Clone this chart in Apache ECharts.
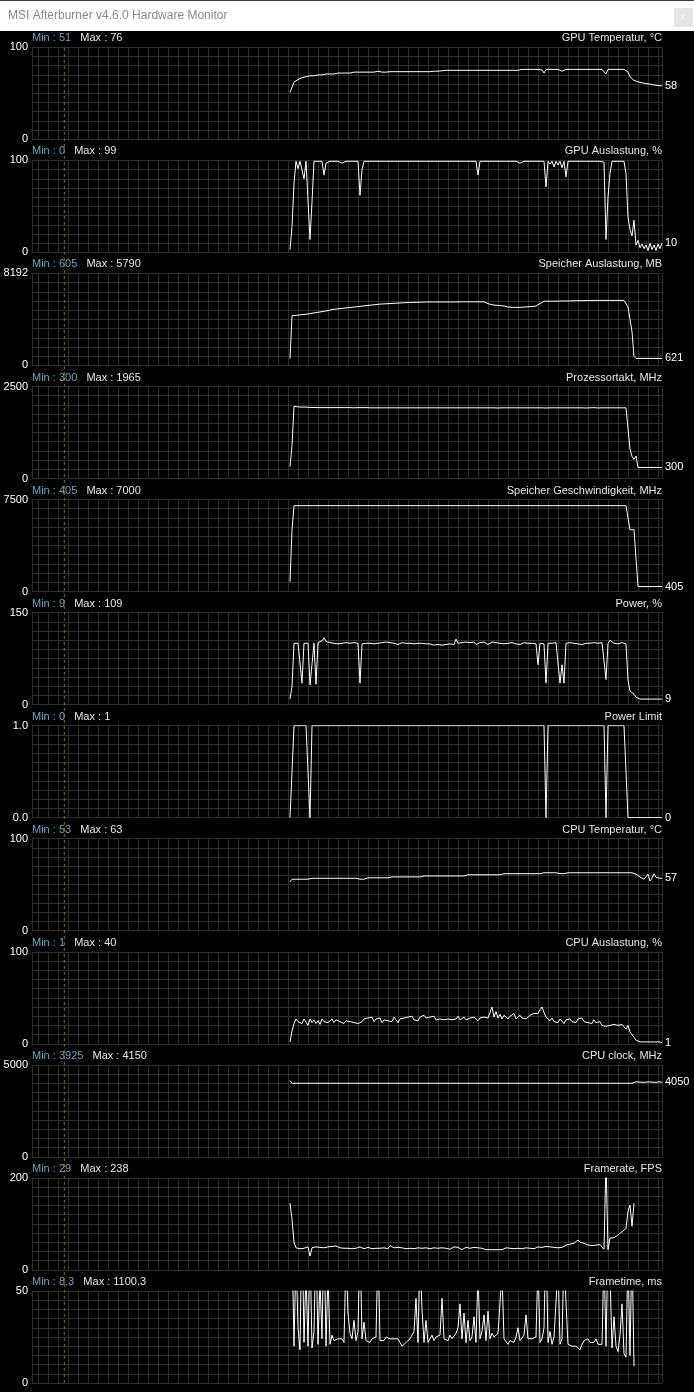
<!DOCTYPE html>
<html><head><meta charset="utf-8">
<script src="https://cdn.jsdelivr.net/npm/echarts@6/dist/echarts.min.js"></script>
<style>html,body{margin:0;padding:0;background:#000}#c{width:694px;height:1392px}</style>
</head><body><div id="c"></div>
<script>
// ---------- DATA ----------
const WINDOW_TITLE = 'MSI Afterburner v4.6.0 Hardware Monitor';
const HISTORY = 630;      // samples visible in the history window
const START = 258;        // sample index of first recorded value
const STEP = 2;           // samples between stored values
const MARKER = 32.3;      // position of the dashed marker

const titles = ['GPU Temperatur, °C','GPU Auslastung, %','Speicher Auslastung, MB','Prozessortakt, MHz','Speicher Geschwindigkeit, MHz','Power, %','Power Limit','CPU Temperatur, °C','CPU Auslastung, %','CPU clock, MHz','Framerate, FPS','Frametime, ms'];
const yMax = [100,100,8192,2500,7500,150,1,100,100,5000,200,50];
const yTopLabels = ['100','100','8192','2500','7500','150','1.0','100','100','5000','200','50'];
const yBottomLabels = ['0','0','0','0','0','0','0.0','0','0','0','0','0'];
const minValues = ['51','0','605','300','405','9','0','53','1','3925','29','8.3'];
const maxValues = ['76','99','5790','1965','7000','109','1','63','40','4150','238','1100.3'];
const showCurrent = [true,true,true,true,true,true,true,true,true,true,false,false];

const gpuTemp = [51,52,62,63,65,66,67,67,68,68,
 69,68,69,69,70,70,70,70,71,71,
 71,71,71,72,72,72,72,72,72,72,
 72,72,73,73,73,73,73,73,73,73,
 73,73,73,73,74,73,73,73,73,73,
 73.5,73.5,73.5,73.5,73.5,73.5,73.5,73.5,73.5,73.5,
 73.5,73.5,73.5,73.5,73.5,73.5,73.5,73.5,73.5,73.5,
 73.5,73.5,74,74.5,74,75,74.5,75,75,75,
 75,75,75,75,75,75,75,75,75,75,
 75,75,75,75,75,75,75,75,75,75,
 75,75,75,75,75,75,75,75,75,75,
 75,75,75,75,75,75.5,76,75.5,76,76,
 76,75.5,76,76,76,76,75.5,72,76,76,
 76,76,76,75.5,76,75.5,74,76,76,76,
 76,76,76,76,76,76,76,76,76,76,
 76,76,76,76,76,76,76,76,71,76,
 76,76,76,76,76,76,76,76,76,73,
 68,66,64,63,62.5,62,61.5,61,60.5,60,
 60,59.5,59,58.5,58.5,58,58];

const gpuLoad = [3,28,75,99,91,99,99,80,99,97,
 14,55,99,97,99,98,99,84,97,99,
 99,99,99,99,99,99,97,99,99,99,
 99,99,99,99,99,62,90,99,99,99,
 99,99,99,99,97,99,99,99,99,99,
 99,99,99,99,99,99,99,99,99,99,
 99,99,99,99,99,99,99,99,99,99,
 99,99,99,99,99,99,99,99,99,99,
 99,99,99,99,99,99,97,99,99,99,
 99,99,99,99,84,99,99,99,99,99,
 99,99,99,99,99,99,99,99,99,99,
 99,99,99,99,99,97,99,99,99,99,
 99,99,99,99,99,99,99,99,71,99,
 96,99,93,99,95,99,92,99,82,99,
 99,99,99,99,99,99,99,99,99,99,
 99,99,99,99,99,99,97,98,14,60,
 86,99,99,99,99,99,99,99,85,38,
 25,18,35,8,13,5,9,4,8,2,
 10,3,8,2,9,4,10];

const memUsage = [605,4420,4440,4460,4480,4500,4520,4540,4560,4580,
 4600,4650,4680,4700,4730,4760,4790,4820,4850,4880,
 4950,4980,5000,5020,5040,5060,5080,5100,5120,5140,
 5160,5180,5200,5220,5240,5260,5280,5300,5320,5340,
 5360,5380,5400,5420,5440,5460,5470,5480,5490,5500,
 5510,5520,5530,5540,5550,5560,5570,5580,5590,5600,
 5600,5610,5610,5620,5620,5630,5630,5640,5640,5650,
 5650,5650,5650,5650,5650,5650,5650,5650,5650,5650,
 5650,5650,5650,5650,5660,5660,5660,5660,5660,5660,
 5660,5660,5660,5660,5660,5660,5660,5660,5600,5500,
 5440,5400,5380,5360,5340,5320,5300,5290,5280,5200,
 5180,5170,5170,5170,5170,5170,5180,5200,5210,5220,
 5230,5240,5260,5280,5350,5500,5650,5720,5720,5720,
 5720,5720,5720,5720,5720,5730,5730,5740,5740,5740,
 5750,5750,5750,5760,5760,5760,5770,5770,5770,5780,
 5780,5780,5790,5790,5790,5790,5790,5790,5790,5790,
 5790,5790,5790,5790,5790,5790,5790,5790,5650,5200,
 4100,3000,800,621,621,621,621,621,621,621,
 621,621,621,621,621,621,621];

const coreClock = [320,900,1960,1950,1945,1950,1940,1945,1940,1945,
 1930,1925,1930,1925,1925,1930,1925,1925,1925,1925,
 1925,1930,1925,1925,1925,1925,1925,1920,1925,1925,
 1925,1925,1920,1925,1925,1925,1925,1925,1925,1920,
 1920,1920,1920,1920,1920,1920,1920,1920,1920,1920,
 1920,1920,1920,1920,1920,1920,1920,1920,1920,1920,
 1920,1920,1920,1920,1920,1920,1920,1920,1920,1920,
 1920,1920,1920,1920,1920,1920,1920,1920,1920,1920,
 1920,1920,1920,1920,1920,1910,1920,1905,1920,1915,
 1920,1915,1920,1910,1920,1920,1920,1920,1920,1920,
 1920,1915,1920,1920,1915,1920,1920,1920,1920,1920,
 1920,1915,1920,1910,1920,1915,1920,1910,1920,1915,
 1920,1915,1920,1910,1920,1920,1920,1930,1915,1920,
 1920,1910,1920,1920,1920,1915,1920,1920,1920,1920,
 1920,1920,1920,1920,1920,1915,1920,1920,1915,1920,
 1920,1920,1925,1920,1915,1920,1920,1920,1920,1920,
 1920,1920,1920,1920,1920,1920,1920,1920,1920,1900,
 800,600,520,610,300,300,300,300,300,300,
 300,300,300,300,300,300,300];

const memClock = [800,5000,7000,7000,7000,7000,7000,7000,7000,7000,
 7000,7000,7000,7000,7000,7000,7000,7000,7000,7000,
 7000,7000,7000,7000,7000,7000,7000,7000,7000,7000,
 7000,7000,7000,7000,7000,7000,7000,7000,7000,7000,
 7000,7000,7000,7000,7000,7000,7000,7000,7000,7000,
 7000,7000,7000,7000,7000,7000,7000,7000,7000,7000,
 7000,7000,7000,7000,7000,7000,7000,7000,7000,7000,
 7000,7000,7000,7000,7000,7000,7000,7000,7000,7000,
 7000,7000,7000,7000,7000,7000,7000,7000,7000,7000,
 7000,7000,7000,7000,7000,7000,7000,7000,7000,7000,
 7000,7000,7000,7000,7000,7000,7000,7000,7000,7000,
 7000,7000,7000,7000,7000,7000,7000,7000,7000,7000,
 7000,7000,7000,7000,7000,7000,7000,7000,7000,7000,
 7000,7000,7000,7000,7000,7000,7000,7000,7000,7000,
 7000,7000,7000,7000,7000,7000,7000,7000,7000,7000,
 7000,7000,7000,7000,7000,7000,7000,7000,7000,7000,
 7000,7000,7000,7000,7000,7000,7000,7000,7000,7000,
 5040,5040,5040,2700,405,405,405,405,405,405,
 405,405,405,405,405,405,405];

const power = [9,30,100,98,100,99,35,100,98,100,
 32,66,100,33,101,103,104,109,103,104,
 101,103,100,102,99,101,100,98,101,99,
 100,98,101,99,100,35,99,101,100,102,
 100,102,99,101,100,98,101,100,102,99,
 101,99,100,102,98,100,101,99,100,98,
 100,102,99,101,100,98,100,101,99,97,
 99,100,97,99,98,100,97,99,98,100,
 99,101,98,107,100,99,101,98,102,99,
 101,99,102,98,100,101,99,102,100,98,
 100,102,99,101,98,100,102,99,101,100,
 98,101,100,99,101,98,100,101,99,100,
 98,100,101,99,65,100,102,99,35,100,
 102,100,98,101,100,35,65,35,100,99,
 101,98,100,102,99,100,98,101,100,99,
 100,98,101,99,100,98,101,100,41,100,
 105,102,100,101,99,100,101,98,99,40,
 22,20,17,12,9,9,9,9,9,9,
 9,9,9,9,9,9,9];

const powerLimit = [0,0.5,1,1,1,1,1,1,1,1,
 0,1,1,1,1,1,1,1,1,1,
 1,1,1,1,1,1,1,1,1,1,
 1,1,1,1,1,1,1,1,1,1,
 1,1,1,1,1,1,1,1,1,1,
 1,1,1,1,1,1,1,1,1,1,
 1,1,1,1,1,1,1,1,1,1,
 1,1,1,1,1,1,1,1,1,1,
 1,1,1,1,1,1,1,1,1,1,
 1,1,1,1,1,1,1,1,1,1,
 1,1,1,1,1,1,1,1,1,1,
 1,1,1,1,1,1,1,1,1,1,
 1,1,1,1,1,1,1,1,0,1,
 1,1,1,1,1,1,1,1,1,1,
 1,1,1,1,1,1,1,1,1,1,
 1,1,1,1,1,1,1,1,0,1,
 1,1,1,1,1,1,1,1,1,0,
 0,0,0,0,0,0,0,0,0,0,
 0,0,0,0,0,0,0];

const cpuTemp = [53,56,56,56,56,56,56,56,56,56,
 57,57,57,57,57,57,57,57,57,57,
 57,57,57,57,57,57,57,57,57,57,
 57,57,57,57,57,56,56,56,56,57.5,
 57.5,57.5,57.5,57.5,57.5,57.5,57.5,57.5,57.5,57.5,
 58.5,58.5,58.5,58.5,58.5,58.5,58.5,58.5,58.5,58.5,
 58.5,58.5,58.5,58.5,58.5,58.5,58.5,59.5,59.5,59.5,
 59.5,59.5,59.5,59.5,59.5,59.5,59.5,59.5,59.5,59.5,
 59.5,59.5,59.5,59.5,59.5,59.5,59.5,59.5,60.8,60.8,
 60.8,60.8,60.8,60.8,60.8,60.8,60.8,60.8,60.8,60.8,
 60.8,60.8,60.8,60.8,60.8,60.8,60.8,62,62,62,
 62,62,62,62,62,62,62,62,62,62,
 62,62,62,62,62,62,63,63,63,63,
 63,63,63,63,62,62,62,62,63,63,
 63,63,63,63,63,63,63,63,63,63,
 63,63,63,63,63,63,63,63,63,63,
 63,63,63,63,63,63,63,63,63,63,
 63,63,62.5,61.5,60,58.5,57.5,56,54.5,61.5,
 54,57,62,58,56.5,57,57];

const cpuLoad = [2,14,22,27,24,26,22,27,25,20,
 27,23,26,22,25,21,27,24,26,23,
 25,27,23,26,28,24,26,22,25,27,
 24,26,23,25,22,20,24,27,25,28,
 26,29,24,27,25,28,23,26,28,25,
 27,24,29,26,23,27,25,28,26,29,
 27,30,26,28,25,29,27,31,28,26,
 29,27,30,26,28,27,29,26,28,27,
 29,26,28,27,30,26,28,29,26,27,
 28,26,29,27,25,28,26,29,27,28,
 30,40,29,35,28,32,27,31,29,27,
 30,28,33,27,29,31,28,30,27,29,
 31,29,33,35,33,37,40,34,29,27,
 25,28,24,26,23,27,25,22,26,24,
 27,24,26,23,27,25,28,24,26,23,
 25,22,26,23,21,24,20,22,19,21,
 20,18,21,19,20,18,21,19,16,20,
 13,10,7,4,3,2,4,2,3,2,
 3,2,3,2,3,2,1];

const cpuClock = [4150,4000,4000,4000,4000,4000,4000,4000,4000,4000,
 4000,4000,4000,4000,4000,4000,4000,4000,4000,4000,
 4000,4000,4000,4000,4000,4000,4000,4000,4000,4000,
 4000,4000,4000,4000,4000,4000,4000,4000,4000,4000,
 4000,4000,4000,4000,4000,4000,4000,4000,4000,4000,
 4000,4000,4000,4000,4000,4000,4000,4000,4000,4000,
 4000,4000,4000,4000,4000,4000,4000,4000,4000,4000,
 4000,4000,4000,4000,4000,4000,4000,4000,4000,4000,
 4000,4000,4000,4000,4000,4000,4000,4000,4000,4000,
 4000,4000,4000,4000,4000,4000,4000,4000,4000,4000,
 4000,4000,4000,4000,4000,4000,4000,4000,4000,4000,
 4000,4000,4000,4000,4000,4000,4000,4000,4000,4000,
 4000,4000,4000,4000,4000,4000,4000,4000,4000,4000,
 4000,4000,4000,4000,4000,4000,4000,4000,4000,4000,
 4000,4000,4000,4000,4000,4000,4000,4000,4000,4000,
 4000,4000,4000,4000,4000,4000,4000,4000,4000,4000,
 4000,4000,4000,4000,4000,4000,4000,4000,4000,4000,
 4000,4000,4000,4080,4150,4060,4120,4050,4130,4070,
 4140,4060,4120,4050,4130,4080,4050];

const framerate = [145,110,60,48,50,46,50,47,44,50,
 30,48,52,50,54,49,51,48,52,50,
 47,51,49,52,50,48,46,47,45,47,
 48,46,49,47,45,50,48,46,47,49,
 47,46,48,47,49,47,46,48,47,46,
 53,51,48,47,49,46,48,47,46,48,
 47,49,46,47,48,46,47,46,48,47,
 46,47,48,46,47,45,48,46,47,48,
 45,48,50,47,49,48,44,47,49,48,
 47,48,49,47,48,46,47,48,44,44,
 44,44,44,44,44,44,44,47,48,46,
 47,48,46,49,47,48,46,47,48,49,
 47,49,46,48,50,47,49,48,51,48,
 50,52,49,53,48,51,49,52,54,53,
 56,60,58,62,65,60,56,58,55,54,
 55,53,56,54,53,55,52,45,238,44,
 69,66,70,72,76,80,83,86,90,128,
 141,95,145];

const frametime = [60,80,20,70,30,18,90,22,60,20,
 75,19,28,80,21,55,24,85,20,60,
 21,26,23,22,24,23,24,22,70,38,
 27,24,34,23,28,80,24,33,23,24,
 22,24,23,25,75,23,24,23,25,24,
 24,25,24,23,24,22,20,21,22,23,
 24,25,28,46,22,70,40,22,34,22,
 24,26,23,25,24,26,46,24,25,23,
 26,24,25,27,30,43,24,38,22,34,
 23,25,36,22,60,24,28,37,23,39,
 24,27,25,26,27,26,60,24,23,21,
 23,24,22,25,30,23,24,26,37,24,
 23,24,23,25,65,22,24,30,80,22,
 28,21,25,44,65,21,24,70,44,21,
 21,20,21,20,19,18,21,23,22,24,
 22,23,22,24,21,22,21,70,20,75,
 60,19,36,20,17,26,43,16,14,70,
 15,75,9];

const seriesValues = [gpuTemp,gpuLoad,memUsage,coreClock,memClock,power,powerLimit,cpuTemp,cpuLoad,cpuClock,framerate,frametime];

// ---------- LAYOUT / STYLE ----------
const FONT = '"Liberation Sans", Arial, sans-serif';
const GRID_COLOR = '#2e2e2e';
const PANEL_TOP = 47.3, PANEL_STEP = 113.06, PANEL_H = 92;
const PLOT_LEFT = 32, PLOT_W = 630;
const SUB_LEFT = 38.7, SUB_W = 620;

const grid = [], xAxis = [], yAxis = [], series = [], title = [];

title.push({left: 8, top: 10, text: WINDOW_TITLE, padding: 0,
  textStyle: {color: '#8a8a8a', fontSize: 12, fontWeight: 'normal', fontFamily: FONT}});

seriesValues.forEach((vals, k) => {
  const top = PANEL_TOP + k * PANEL_STEP;
  const gA = grid.length;
  grid.push({left: PLOT_LEFT, width: PLOT_W, top: top, height: PANEL_H});
  grid.push({left: SUB_LEFT, width: SUB_W, top: top, height: PANEL_H});
  xAxis.push({gridIndex: gA, type: 'value', min: 0, max: HISTORY, interval: HISTORY,
    axisLine: {show: false}, axisTick: {show: false}, axisLabel: {show: false},
    splitLine: {show: true, lineStyle: {color: GRID_COLOR, width: 1}}});
  const mx = yMax[k];
  yAxis.push({gridIndex: gA, type: 'value', min: 0, max: mx, interval: mx / 10,
    axisLine: {show: false}, axisTick: {show: false},
    splitLine: {show: true, lineStyle: {color: GRID_COLOR, width: 1}},
    axisLabel: {show: true, margin: 4, color: '#ffffff', fontSize: 11, fontFamily: FONT,
      formatter: (v) => Math.abs(v - mx) < mx * 1e-6 ? yTopLabels[k] : (Math.abs(v) < mx * 1e-6 ? yBottomLabels[k] : '')}});
  xAxis.push({gridIndex: gA + 1, type: 'value', min: 0, max: SUB_W, interval: 10,
    axisLine: {show: false}, axisTick: {show: false}, axisLabel: {show: false},
    splitLine: {show: true, lineStyle: {color: GRID_COLOR, width: 1}}});
  yAxis.push({gridIndex: gA + 1, type: 'value', min: 0, max: 1,
    axisLine: {show: false}, axisTick: {show: false}, axisLabel: {show: false}, splitLine: {show: false}});

  series.push({type: 'line', xAxisIndex: gA, yAxisIndex: gA,
    data: vals.map((v, i) => [START + i * STEP, v]),
    symbol: 'none', silent: true, z: 5,
    lineStyle: {color: '#ffffff', width: 1},
    endLabel: {show: showCurrent[k], color: '#ffffff', fontSize: 11, fontFamily: FONT, distance: 3,
      formatter: (p) => String(p.value[1])}
  });

  title.push({left: PLOT_LEFT, top: top - 15.5, padding: 0,
    text: '{a|Min : ' + minValues[k] + '}   {b|Max : ' + maxValues[k] + '}',
    textStyle: {fontSize: 11, fontWeight: 'normal', fontFamily: FONT, lineHeight: 13,
      rich: {a: {color: '#6fa3bb', fontSize: 11, fontWeight: 'normal', fontFamily: FONT, lineHeight: 13},
             b: {color: '#e6e6e6', fontSize: 11, fontWeight: 'normal', fontFamily: FONT, lineHeight: 13}}}});
  title.push({right: 694 - PLOT_LEFT - PLOT_W, top: top - 15.5, padding: 0, text: titles[k],
    textStyle: {color: '#e6e6e6', fontSize: 11, fontWeight: 'normal', fontFamily: FONT, lineHeight: 13}});
});

const gM = grid.length;
grid.push({left: PLOT_LEFT, width: PLOT_W, top: PANEL_TOP, height: PANEL_STEP * 11 + PANEL_H});
xAxis.push({gridIndex: gM, type: 'value', min: 0, max: HISTORY, show: false});
yAxis.push({gridIndex: gM, type: 'value', min: 0, max: 1, show: false});
series.push({type: 'line', xAxisIndex: gM, yAxisIndex: gM, data: [[MARKER, 0], [MARKER, 1]],
  symbol: 'none', silent: true, z: 4, lineStyle: {color: '#7d7d00', width: 1, type: [3, 3]}});

const chart = echarts.init(document.getElementById('c'), null, {renderer: 'canvas', width: 694, height: 1392});
chart.setOption({
  backgroundColor: '#000000',
  animation: false,
  title: title,
  grid: grid, xAxis: xAxis, yAxis: yAxis, series: series,
  graphic: [
    {type: 'rect', left: 0, top: 0, shape: {width: 694, height: 31}, style: {fill: '#ffffff'}, z: 0, silent: true},
    {type: 'rect', left: 0, top: 0, shape: {width: 694, height: 1}, style: {fill: '#2b3b4d'}, z: 1, silent: true},
    {type: 'rect', left: 674, top: 8, shape: {width: 19, height: 19}, style: {fill: '#e5e5e5'}, z: 1, silent: true},
    {type: 'text', left: 680, top: 11, style: {text: 'x', fill: '#f5f5f5', font: '11px ' + FONT}, z: 2, silent: true}
  ]
});
</script></body></html>
